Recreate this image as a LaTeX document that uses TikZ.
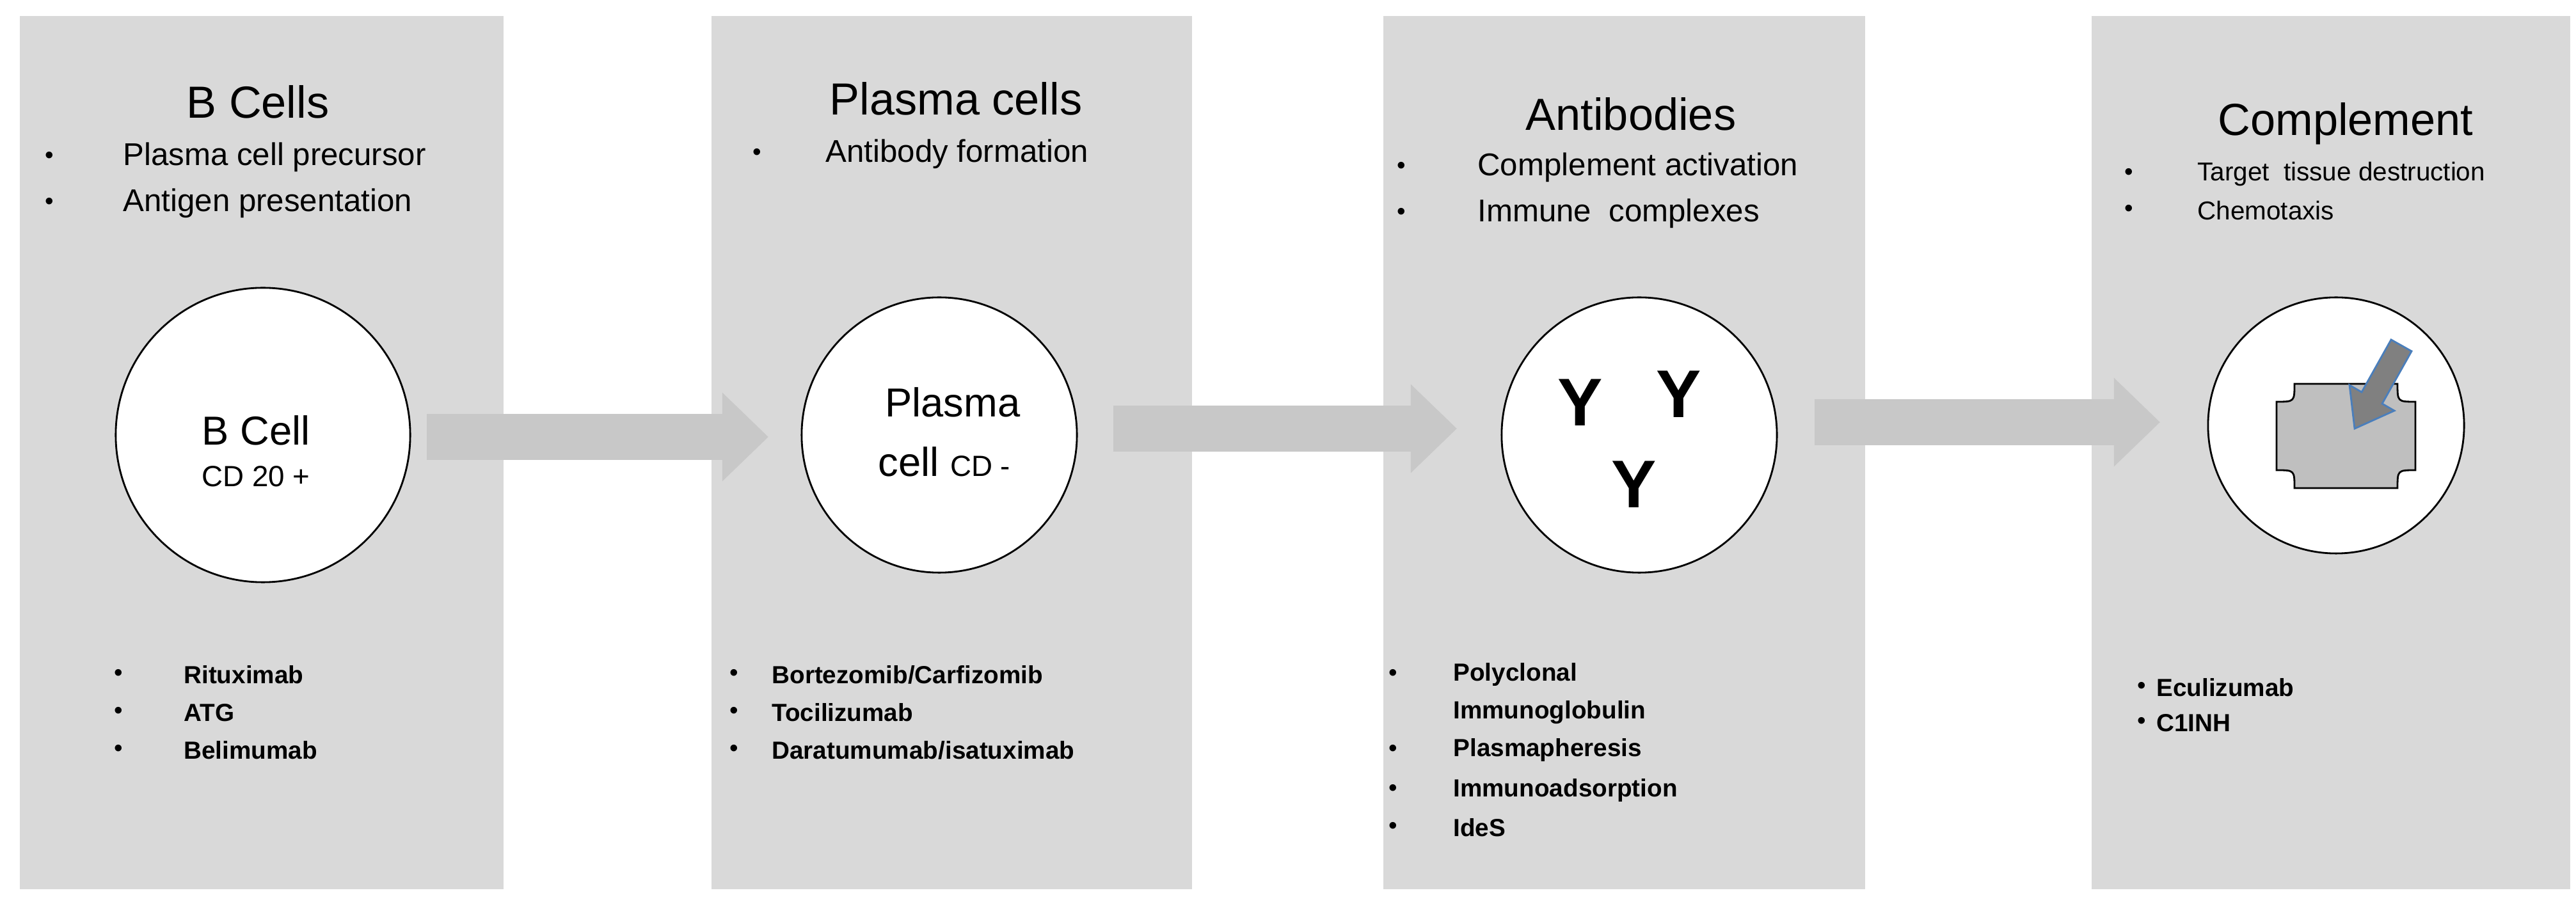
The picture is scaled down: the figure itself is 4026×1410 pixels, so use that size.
\documentclass[tikz,border=0pt]{standalone}
\usepackage{fontspec}
\setmainfont{Liberation Sans}
\usetikzlibrary{arrows.meta}
\begin{document}
\begin{tikzpicture}[x=0.01cm, y=-0.01cm,
        panel_style/.style={fill=panelgray, draw=none},
        cell_style/.style={circle, draw=black, fill=white, thick, minimum size=4.3cm, inner sep=0pt},
        title_style/.style={font=\fontsize{20}{24}\selectfont},
        item_style/.style={anchor=west, font=\fontsize{14}{17}\selectfont},
        small_item_style/.style={anchor=west, font=\fontsize{11.5}{14}\selectfont},
        drug_style/.style={anchor=west, font=\fontsize{11}{13}\selectfont\bfseries},
        dot_style/.style={font=\fontsize{11}{13}\selectfont},
        flow_style/.style={draw=flowgray, line width=0.72cm, -{Triangle[width=1.34cm,length=0.72cm]}},
        ab_style/.style={font=\fontsize{30}{30}\selectfont\bfseries}]
        \definecolor{panelgray}{HTML}{D9D9D9}
        \definecolor{flowgray}{HTML}{C8C8C8}
        \definecolor{arrowblue}{HTML}{4A7EBB}
        \useasboundingbox (0,0) rectangle (4026,1410);
        \fill [white] (0,0) rectangle (4026,1410);

        % panels
        \fill [panel_style] (31,25) rectangle (787,1390);
        \fill [panel_style] (1112,25) rectangle (1863,1390);
        \fill [panel_style] (2162,25) rectangle (2915,1390);
        \fill [panel_style] (3269,25) rectangle (4017,1390);

        % titles and roles
        \node [title_style] (t1) at (403,159) {B Cells};
        \node [item_style] (i11) at (180,246) {Plasma cell precursor};
        \node [item_style] (i12) at (180,318) {Antigen presentation};
        \node [dot_style] at (77,246) {•};
        \node [dot_style] at (77,318) {•};

        \node [title_style] (t2) at (1494,154) {Plasma cells};
        \node [item_style] (i21) at (1278,241) {Antibody formation};
        \node [dot_style] at (1183,241) {•};

        \node [title_style] (t3) at (2549,178) {Antibodies};
        \node [item_style] (i31) at (2297,262) {Complement activation};
        \node [item_style] (i32) at (2297,334) {Immune\ \ complexes};
        \node [dot_style] at (2190,262) {•};
        \node [dot_style] at (2190,334) {•};

        \node [title_style] (t4) at (3666,193) {Complement};
        \node [small_item_style] (i41) at (3422,272) {Target\ \ tissue destruction};
        \node [small_item_style] (i42) at (3422,329) {Chemotaxis};
        \node [dot_style] at (3327,272) {•};
        \node [dot_style] at (3327,329) {•};

        % cells
        \node [cell_style, minimum size=4.6cm] (c1) at (411,680) {};
        \node [cell_style] (c2) at (1468,680) {};
        \node [cell_style] (c3) at (2562,680) {};
        \node [cell_style, minimum size=4cm] (c4) at (3651,665) {};

        \node [font=\fontsize{18}{20}\selectfont] at (400,673) {B Cell};
        \node [font=\fontsize{13}{15}\selectfont] at (400,745) {CD 20 +};
        \node [font=\fontsize{18}{20}\selectfont] at (1489,629) {Plasma};
        \node [font=\fontsize{18}{20}\selectfont, anchor=base west] at (1360,745) {cell {\fontsize{13}{15}\selectfont CD -}};

        \node [ab_style] (y1) at (2470,629) {Y};
        \node [ab_style] (y2) at (2624,616) {Y};
        \node [ab_style] (y3) at (2554,757) {Y};

        % target tissue
        \filldraw [fill=gray!50, draw=black, thick]
            (3586,600) -- (3747,600) .. controls (3747,628) .. (3775,628)
            -- (3775,735) .. controls (3747,735) .. (3747,763)
            -- (3586,763) .. controls (3586,735) .. (3558,735)
            -- (3558,628) .. controls (3586,628) .. (3586,600) -- cycle;
        \filldraw [fill=gray, draw=arrowblue, thick]
            (3737,531) -- (3691,613) -- (3672,602) -- (3680,670)
            -- (3742,642) -- (3723,631) -- (3769,549) -- cycle;

        % flow
        \draw [flow_style] (667,683) -- (1201,683);
        \draw [flow_style] (1740,670) -- (2277,670);
        \draw [flow_style] (2836,660) -- (3376,660);

        % therapies
        \foreach \y/\txt in {1055/Rituximab, 1114/ATG, 1173/Belimumab} {
            \node [dot_style] at (185,\y) {•};
            \node [drug_style] at (275,\y) {\txt};
        }
        \foreach \y/\txt in {1055/Bortezomib\slash Carfizomib, 1114/Tocilizumab, 1173/Daratumumab\slash isatuximab} {
            \node [dot_style] at (1147,\y) {•};
            \node [drug_style] at (1194,\y) {\txt};
        }
        \foreach \y/\txt in {1055/Polyclonal, 1173/Plasmapheresis, 1235/Immunoadsorption, 1294/IdeS} {
            \node [dot_style] at (2177,\y) {•};
            \node [drug_style] at (2259,\y) {\txt};
        }
        \node [drug_style] at (2259,1114) {Immunoglobulin};
        \foreach \y/\txt in {1075/Eculizumab, 1130/C1INH} {
            \node [dot_style] at (3347,\y) {•};
            \node [drug_style] at (3358,\y) {\txt};
        }
\end{tikzpicture}
\end{document}
